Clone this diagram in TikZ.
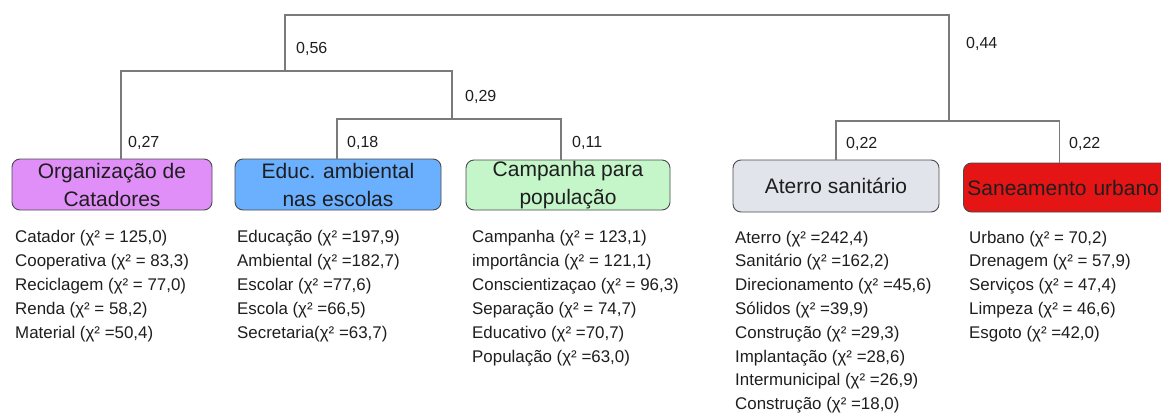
\documentclass[tikz,border=0pt]{standalone}
\usepackage{fontspec}
\setmainfont{Liberation Sans}

\definecolor{ink}{HTML}{1E1E1E}
\definecolor{linkgray}{HTML}{7A7A7A}
\definecolor{boxgray}{HTML}{4A4A4A}
\definecolor{catcol}{HTML}{E08FF8}
\definecolor{educol}{HTML}{6BB0FF}
\definecolor{campcol}{HTML}{C4F6CA}
\definecolor{atercol}{HTML}{E1E4EA}
\definecolor{sancol}{HTML}{E61515}

\tikzset{
  x=1pt, y=-1pt, % one unit per pixel, y downwards
  link/.style={draw=linkgray, line width=1.2pt}, % dendrogram branches
  group/.style={draw=boxgray, line width=0.9pt, rounded corners=8pt, inner sep=0pt,
    align=center, text=ink, font=\fontsize{21}{28}\selectfont},
  lbl/.style={inner sep=0pt, anchor=base west, text=ink, font=\fontsize{16}{19}\selectfont},
  item/.style={inner sep=0pt, anchor=base west, text=ink, font=\fontsize{16.9}{24}\selectfont},
}

\begin{document}
\begin{tikzpicture}
    \useasboundingbox (0,0) rectangle (1161,415);

    % class boxes
    \node[group, fill=catcol, minimum width=200pt, minimum height=51pt] (org) at (112,184.5) {Organização de\\Catadores};
    \node[group, fill=educol, minimum width=206pt, minimum height=51pt] (edu) at (338,184.5) {Educ. ambiental\\nas escolas};
    \node[group, fill=campcol, minimum width=204pt, minimum height=50pt] (camp) at (568,185) {Campanha para\\população};
    \node[group, fill=atercol, minimum width=206pt, minimum height=52pt] (ater) at (836,186) {Aterro sanitário};
    \node[group, fill=sancol, anchor=west, text width=202pt, inner xsep=4pt, align=left,
          minimum height=49pt] (san) at (963,187.5) {Saneamento urbano};

    % joints
    \coordinate (root) at (617,15);
    \coordinate (j56) at (285,71);
    \coordinate (j29) at (452,119);
    \coordinate (j44) at (949,121);

    \draw[link] (j56) |- (root) -| (j44);
    \draw[link] ([xshift=9pt]org.north) |- (j56) -| (j29);
    \draw[link] ([xshift=-1pt]edu.north) |- (j29) -| ([xshift=-7pt]camp.north);
    \draw[link] (ater.north) |- (j44) -| ([xshift=-9pt]san.north);

    % distances
    \node[lbl] (d56) at (296,53.5) {0,56};
    \node[lbl] (d29) at (465,101.5) {0,29};
    \node[lbl] (d27) at (128,147.5) {0,27};
    \node[lbl] (d18) at (347,147.5) {0,18};
    \node[lbl] (d11) at (572,147.5) {0,11};
    \node[lbl] (d44) at (966,48.5) {0,44};
    \node[lbl] (d22a) at (846,148.5) {0,22};
    \node[lbl] (d22b) at (1069,148.5) {0,22};

    % words of each class
    \foreach \w [count=\i] in {{Catador (χ² = 125,0)}, {Cooperativa (χ² = 83,3)},
        {Reciclagem (χ² = 77,0)}, {Renda (χ² = 58,2)}, {Material (χ² =50,4)}}
      \node[item] (wcat\i) at (15,242+24.1*\i-24.1) {\w};
    \foreach \w [count=\i] in {{Educação (χ² =197,9)}, {Ambiental (χ² =182,7)},
        {Escolar (χ² =77,6)}, {Escola (χ² =66,5)}, {Secretaria(χ² =63,7)}}
      \node[item] (wedu\i) at (237,242+24.1*\i-24.1) {\w};
    \foreach \w [count=\i] in {{Campanha (χ² = 123,1)}, {importância (χ² = 121,1)},
        {Conscientizaçao (χ² = 96,3)}, {Separação (χ² = 74,7)}, {Educativo (χ² =70,7)},
        {População (χ² =63,0)}}
      \node[item] (wcamp\i) at (472,242+24.1*\i-24.1) {\w};
    \foreach \w [count=\i] in {{Aterro (χ² =242,4)}, {Sanitário (χ² =162,2)},
        {Direcionamento (χ² =45,6)}, {Sólidos (χ² =39,9)}, {Construção (χ² =29,3)},
        {Implantação (χ² =28,6)}, {Intermunicipal (χ² =26,9)}, {Construção (χ² =18,0)}}
      \node[item] (water\i) at (735,243+23.8*\i-23.8) {\w};
    \foreach \w [count=\i] in {{Urbano (χ² = 70,2)}, {Drenagem (χ² = 57,9)},
        {Serviços (χ² = 47,4)}, {Limpeza (χ² = 46,6)}, {Esgoto (χ² =42,0)}}
      \node[item] (wsan\i) at (969,243+23.8*\i-23.8) {\w};
\end{tikzpicture}
\end{document}
